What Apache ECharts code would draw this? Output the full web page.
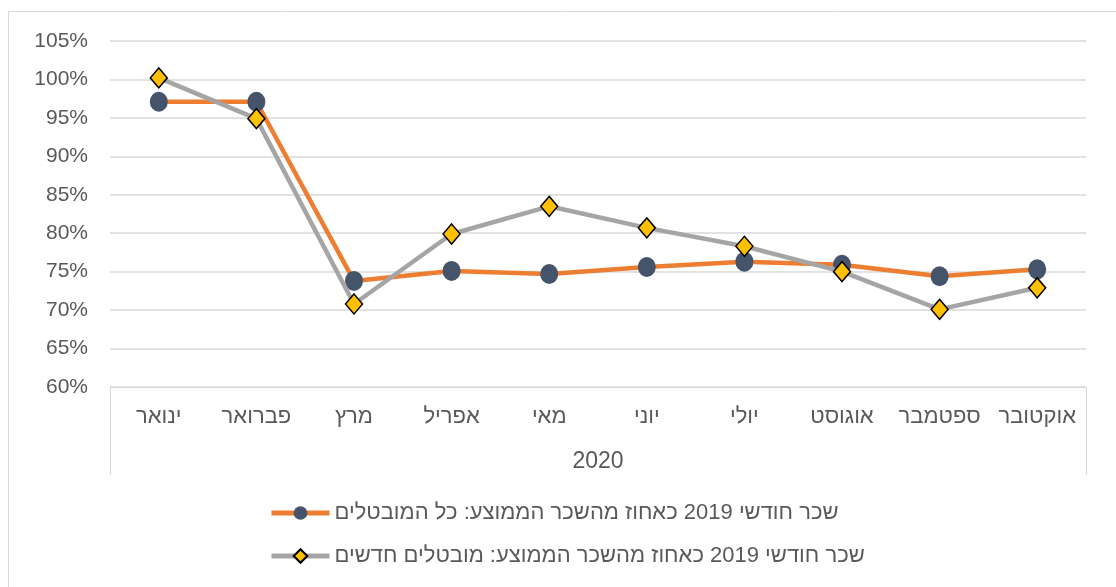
<!DOCTYPE html>
<html>
<head>
<meta charset="utf-8">
<script src="https://cdn.jsdelivr.net/npm/echarts@6/dist/echarts.min.js"></script>
<style>
  html, body { margin: 0; padding: 0; background: #fff; }
  #chart { width: 1116px; height: 587px; }
</style>
</head>
<body>
<div id="chart"></div>
<script>
  // months (Hebrew), year group
  const months = ['ינואר', 'פברואר', 'מרץ', 'אפריל', 'מאי', 'יוני', 'יולי', 'אוגוסט', 'ספטמבר', 'אוקטובר'];
  const years = ['2020'];
  // wage 2019 as % of average wage
  const allUnemployed = [97.1, 97.1, 73.8, 75.1, 74.7, 75.6, 76.3, 75.9, 74.4, 75.3];
  const newUnemployed = [100.2, 94.9, 70.8, 79.9, 83.5, 80.7, 78.3, 75.0, 70.1, 72.9];
  const seriesNames = [
    'שכר חודשי 2019 כאחוז מהשכר הממוצע: כל המובטלים',
    'שכר חודשי 2019 כאחוז מהשכר הממוצע: מובטלים חדשים'
  ];

  const myChart = echarts.init(document.getElementById('chart'));
  const textColor = '#595959';
  const font = 'Liberation Sans, Arial, sans-serif';

  myChart.setOption({
    animation: false,
    textStyle: { fontFamily: font },
    graphic: [{
      type: 'rect',
      shape: { x: 8.5, y: 11.5, width: 1120, height: 600 },
      style: { fill: 'none', stroke: '#d9d9d9', lineWidth: 1 }
    }],
    grid: { left: 110, right: 30, top: 41, bottom: 200 },
    legend: {
      orient: 'vertical',
      left: 264,
      top: 497,
      itemGap: 21,
      itemWidth: 58,
      itemHeight: 17,
      textStyle: { fontSize: 22, color: textColor, fontFamily: font },
      data: [
        { name: seriesNames[0], lineStyle: { width: 5 } },
        { name: seriesNames[1], lineStyle: { width: 5 } }
      ]
    },
    xAxis: [
      {
        type: 'category',
        data: months,
        boundaryGap: true,
        axisLine: { lineStyle: { color: '#d9d9d9', width: 1 } },
        axisTick: { show: false },
        axisLabel: { color: textColor, fontSize: 22, margin: 19, interval: 0 }
      },
      {
        type: 'category',
        data: years,
        position: 'bottom',
        boundaryGap: true,
        axisLine: { show: false },
        axisTick: { show: true, length: 88, lineStyle: { color: '#d9d9d9' } },
        axisLabel: { color: textColor, fontSize: 23, margin: 63 }
      }
    ],
    yAxis: {
      type: 'value',
      min: 60,
      max: 105,
      interval: 5,
      axisLine: { show: false },
      axisTick: { show: false },
      splitLine: { lineStyle: { color: '#d9d9d9', width: 1.5 } },
      axisLabel: { formatter: '{value}%', color: textColor, fontSize: 21, margin: 22 }
    },
    series: [
      {
        name: seriesNames[0],
        type: 'line',
        xAxisIndex: 0,
        data: allUnemployed,
        lineStyle: { color: '#ED7D31', width: 4.5 },
        itemStyle: { color: '#44546A', borderWidth: 0 },
        color: '#ED7D31',
        symbol: 'circle',
        symbolSize: [18, 20],
        z: 2
      },
      {
        name: seriesNames[1],
        type: 'line',
        xAxisIndex: 0,
        data: newUnemployed,
        lineStyle: { color: '#A5A5A5', width: 4.5 },
        itemStyle: { color: '#FFC000', borderColor: '#000', borderWidth: 1.5 },
        color: '#A5A5A5',
        symbol: 'diamond',
        symbolSize: [17, 20],
        z: 3
      }
    ]
  });
</script>
</body>
</html>
